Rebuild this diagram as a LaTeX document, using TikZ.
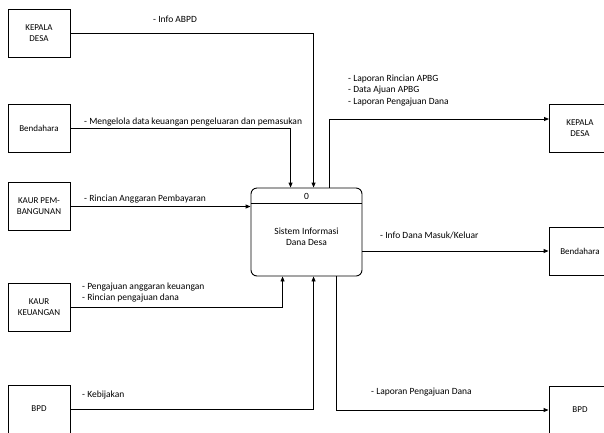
\documentclass[tikz,border=0pt]{standalone}
\usepackage{fontspec}
\setmainfont{Carlito}
\usetikzlibrary{arrows.meta,calc}
\begin{document}
\begin{tikzpicture}[x=1pt,y=-1pt,
  ent/.style={draw,line width=0.9pt,minimum width=62pt,minimum height=48pt,inner sep=1pt,align=center,font=\fontsize{9}{11}\selectfont},
  flow/.style={line width=0.9pt,-{Triangle[length=5pt,width=4pt]}},
  lbl/.style={anchor=base west,inner sep=0pt,font=\fontsize{9.5}{11}\selectfont},
  proc/.style={draw,line width=0.9pt,rounded corners=6pt,minimum width=111pt,minimum height=88pt}]
\useasboundingbox (0,0) rectangle (604,432);
\clip (0,0) rectangle (604,432);
% left entities
\node[ent] (kd1) at (39,33) {KEPALA\\DESA};
\node[ent] (bd1) at (39,128.5) {Bendahara};
\node[ent] (kp) at (39,206.5) {KAUR PEM-\\BANGUNAN};
\node[ent] (kk) at (39,307) {KAUR\\KEUANGAN};
\node[ent] (bpd1) at (39,409) {BPD};
% right entities
\node[ent] (kd2) at (580,128) {KEPALA\\DESA};
\node[ent] (bd2) at (580,251) {Bendahara};
\node[ent] (bpd2) at (580,410) {BPD};
% process
\node[proc] (p) at (306.5,232) {};
\draw[line width=0.9pt] (p.west |- 0,203) -- (p.east |- 0,203);
\node[font=\fontsize{9.5}{11}\selectfont] (pn) at (306.5,196) {0};
\node[align=center,font=\fontsize{9.5}{11.5}\selectfont] (pt) at (306.5,237) {Sistem Informasi\\Dana Desa};
% anchor points on the process
\coordinate (pa) at ($(p.north west)+(63,0)$);
\coordinate (pb) at ($(p.north west)+(40,0)$);
\coordinate (pc) at ($(p.north west)+(79,0)$);
\coordinate (pd) at ($(p.south west)+(32,0)$);
\coordinate (pe) at ($(p.south west)+(63,0)$);
\coordinate (pf) at ($(p.south west)+(86,0)$);
% inputs
\draw[flow] (kd1.east) -| (pa);
\draw[flow] (bd1.east) -| (pb);
\draw[flow] (kp.east) -- (kp.east -| p.west);
\draw[flow] (kk.east) -| (pd);
\draw[flow] (bpd1.east) -| (pe);
% outputs
\coordinate (kdin) at (549,119);
\draw[flow] (pc) |- (kdin);
\draw[flow] (p.east |- bd2.west) -- (bd2.west);
\draw[flow] (pf) |- (bpd2.west);
% labels
\node[lbl] (l1) at (153,22) {- Info ABPD};
\node[lbl] (l2) at (84,124) {- Mengelola data keuangan pengeluaran dan pemasukan};
\node[lbl] (l3) at (84,201) {- Rincian Anggaran Pembayaran};
\node[lbl] (l4) at (82,289) {- Pengajuan anggaran keuangan};
\node[lbl] (l5) at (82,300) {- Rincian pengajuan dana};
\node[lbl] (l6) at (82,397) {- Kebijakan};
\node[lbl] (l7) at (348,81) {- Laporan Rincian APBG};
\node[lbl] (l8) at (348,92.5) {- Data Ajuan APBG};
\node[lbl] (l9) at (348,104) {- Laporan Pengajuan Dana};
\node[lbl] (l10) at (380,238) {- Info Dana Masuk/Keluar};
\node[lbl] (l11) at (371,394) {- Laporan Pengajuan Dana};
\end{tikzpicture}
\end{document}
